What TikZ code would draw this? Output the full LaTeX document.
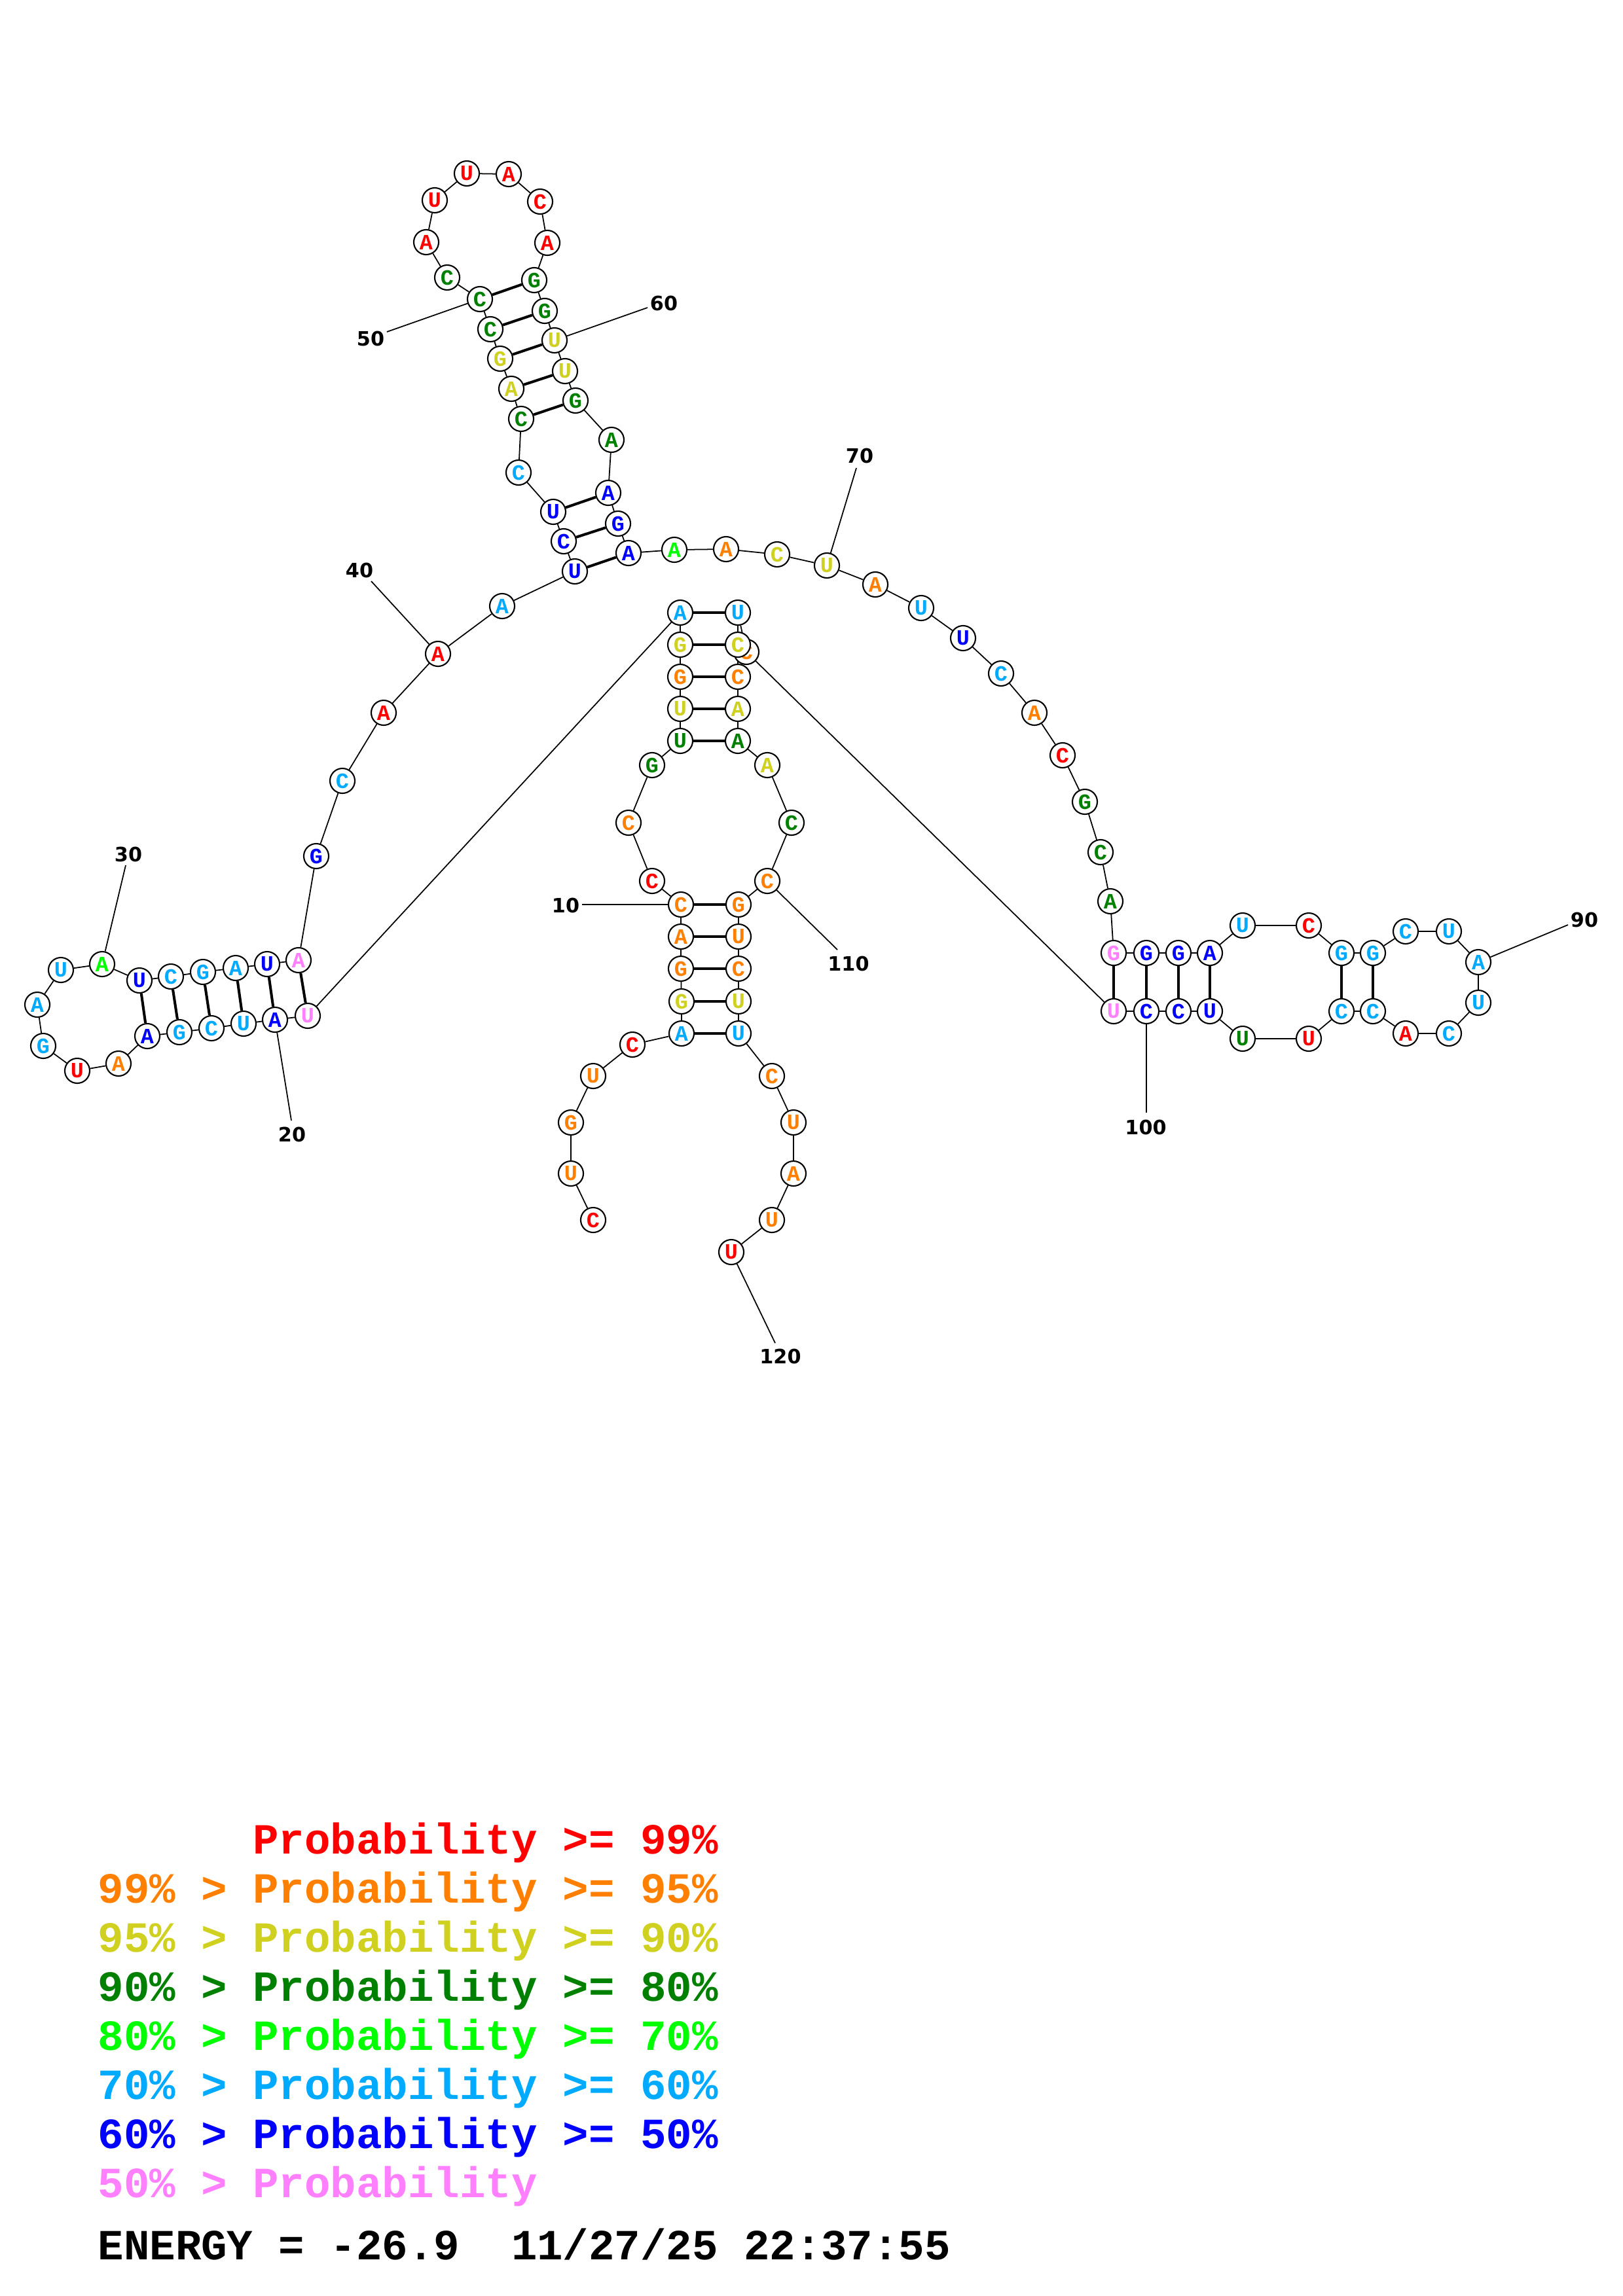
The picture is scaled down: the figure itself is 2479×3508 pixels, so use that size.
\documentclass[tikz,border=0pt]{standalone}
\usepackage{fontspec}
\setmainfont{DejaVu Sans}
\newfontfamily\monofont{Liberation Mono}
\newfontfamily\numfont{DejaVu Sans}
\usetikzlibrary{backgrounds}
\definecolor{cR}{RGB}{255,0,0}
\definecolor{cO}{RGB}{255,128,0}
\definecolor{cY}{RGB}{208,208,32}
\definecolor{cG}{RGB}{0,128,0}
\definecolor{cL}{RGB}{0,255,0}
\definecolor{cC}{RGB}{0,170,255}
\definecolor{cB}{RGB}{0,0,255}
\definecolor{cP}{RGB}{255,128,255}
\begin{document}
\begin{tikzpicture}[x=0.01cm,y=-0.01cm,
  nt/.style={circle,draw=black,line width=0.6pt,fill=white,minimum size=0.38cm,inner sep=0pt,
    font=\monofont\bfseries\fontsize{9.5}{9.5}\selectfont},
  bb/.style={line width=0.5pt},
  bp/.style={line width=1.15pt},
  num/.style={font=\numfont\bfseries\fontsize{8.6}{8.6}\selectfont,inner sep=0pt},
  leg/.style={anchor=base west,inner sep=0pt,font=\monofont\bfseries\fontsize{18.7}{18.7}\selectfont}]
\useasboundingbox (0,0) rectangle (2479,3508);

\foreach \i/\x/\y/\b/\c in {
 1/906/1864/C/cR, 2/872/1793/U/cO, 3/872/1715/G/cO, 4/906/1644/U/cO, 5/966/1596/C/cR,
 6/1041/1579/A/cC, 7/1041/1530/G/cY, 8/1040/1480/G/cO, 9/1040/1431/A/cO, 10/1040/1382/C/cO,
 11/996/1346/C/cR, 12/960/1257/C/cO, 13/996/1169/G/cG, 14/1039/1132/U/cG, 15/1039/1083/U/cY,
 16/1039/1034/G/cO, 17/1039/985/G/cY, 18/1039/936/A/cC, 19/470/1552/U/cP, 20/420/1558/A/cB,
 21/372/1564/U/cC, 22/323/1571/C/cC, 23/274/1577/G/cC, 24/225/1583/A/cB, 25/181/1625/A/cO,
 26/118/1636/U/cR, 27/66/1598/G/cC, 28/57/1535/A/cC, 29/93/1482/U/cC, 30/156/1473/A/cL,
 31/213/1498/U/cB, 32/261/1492/C/cC, 33/310/1485/G/cC, 34/360/1479/A/cC, 35/408/1473/U/cB,
 36/456/1467/A/cP, 37/483/1308/G/cB, 38/523/1193/C/cC, 39/586/1089/A/cR, 40/669/999/A/cR,
 41/767/926/A/cC, 42/878/873/U/cB, 43/861/827/C/cB, 44/845/782/U/cB, 45/792/722/C/cC,
 46/796/640/C/cG, 47/781/594/A/cY, 48/764/548/G/cY, 49/749/503/C/cG, 50/733/457/C/cG,
 51/683/424/C/cG, 52/651/370/A/cR, 53/664/306/U/cR, 54/713/265/U/cR, 55/777/266/A/cR,
 56/825/308/C/cR, 57/836/371/A/cR, 58/816/428/G/cG, 59/832/475/G/cG, 60/847/520/U/cY,
 61/863/567/U/cY, 62/879/612/G/cG, 63/934/672/A/cG, 64/929/753/A/cB, 65/944/800/G/cB,
 66/960/845/A/cB, 67/1030/840/A/cL, 68/1109/839/A/cO, 69/1187/847/C/cY, 70/1263/864/U/cY,
 71/1337/893/A/cO, 72/1407/929/U/cC, 73/1471/975/U/cB, 74/1529/1029/C/cC, 75/1580/1089/A/cO,
 76/1623/1154/C/cR, 77/1657/1225/G/cG, 78/1681/1302/C/cG, 79/1696/1377/A/cG, 80/1701/1456/G/cP,
 81/1751/1456/G/cB, 82/1800/1456/G/cB, 83/1848/1456/A/cB, 84/1898/1414/U/cC, 85/1999/1414/C/cR,
 86/2049/1456/G/cC, 87/2097/1456/G/cC, 88/2147/1423/C/cC, 89/2213/1423/U/cC, 90/2258/1470/A/cC,
 91/2258/1532/U/cC, 92/2213/1579/C/cC, 93/2147/1579/A/cR, 94/2097/1545/C/cC, 95/2049/1545/C/cC,
 96/1999/1587/U/cR, 97/1898/1587/U/cG, 98/1848/1545/U/cB, 99/1800/1545/C/cB, 100/1751/1545/C/cB,
 101/1701/1545/U/cP, 102/1140/996/C/cO, 103/1127/936/U/cC, 104/1127/985/C/cY, 105/1127/1034/C/cO,
 106/1127/1083/A/cY, 107/1127/1132/A/cG, 108/1172/1169/A/cY, 109/1209/1257/C/cG, 110/1172/1346/C/cO,
 111/1128/1382/G/cO, 112/1128/1431/U/cO, 113/1128/1480/C/cO, 114/1128/1530/U/cY, 115/1128/1579/U/cC,
 116/1179/1644/C/cO, 117/1212/1715/U/cO, 118/1212/1793/A/cO, 119/1179/1864/U/cO, 120/1117/1913/U/cR}
 {\node[nt,text=\c] (n\i) at (\x,\y) {\b};}

% numbering labels
\foreach \k/\tx/\ty/\ex/\ey in {10/864/1383/889/1382, 20/446/1733/445/1712, 30/196/1305/192/1322,
 40/549/871/567/888, 50/566/517/591/507, 60/1014/463/989/470, 70/1313/696/1308/715,
 90/2420/1405/2395/1413, 100/1750/1722/1751/1700, 110/1296/1472/1279/1451, 120/1192/2072/1184/2052}
 {\node[num] (t\k) at (\tx,\ty) {\k};
  \coordinate (e\k) at (\ex,\ey);}

\begin{pgfonlayer}{background}
 \foreach \i in {1,...,119}{\pgfmathtruncatemacro{\j}{\i+1}\draw[bb] (n\i) -- (n\j);}
 \foreach \a/\b in {14/107,15/106,16/105,17/104,18/103,10/111,9/112,8/113,7/114,6/115,
   19/36,20/35,21/34,22/33,23/32,24/31,42/66,43/65,44/64,46/62,47/61,48/60,49/59,50/58,
   80/101,81/100,82/99,83/98,86/95,87/94}
   {\draw[bp] (n\a) -- (n\b);}
 \foreach \k in {10,20,30,40,50,60,70,90,100,110,120}{\draw[bb] (n\k) -- (e\k);}
\end{pgfonlayer}

% legend
\node[leg,text=cR] (g1) at (149,2832) {\phantom{99\% > }Probability >= 99\%};
\node[leg,text=cO] (g2) at (149,2907) {99\% > Probability >= 95\%};
\node[leg,text=cY] (g3) at (149,2982) {95\% > Probability >= 90\%};
\node[leg,text=cG] (g4) at (149,3057) {90\% > Probability >= 80\%};
\node[leg,text=cL] (g5) at (149,3132) {80\% > Probability >= 70\%};
\node[leg,text=cC] (g6) at (149,3207) {70\% > Probability >= 60\%};
\node[leg,text=cB] (g7) at (149,3282) {60\% > Probability >= 50\%};
\node[leg,text=cP] (g8) at (149,3357) {50\% > Probability};
\node[leg,text=black] (g9) at (149,3452) {ENERGY = -26.9\ \ 11/27/25 22:37:55};
\end{tikzpicture}
\end{document}
